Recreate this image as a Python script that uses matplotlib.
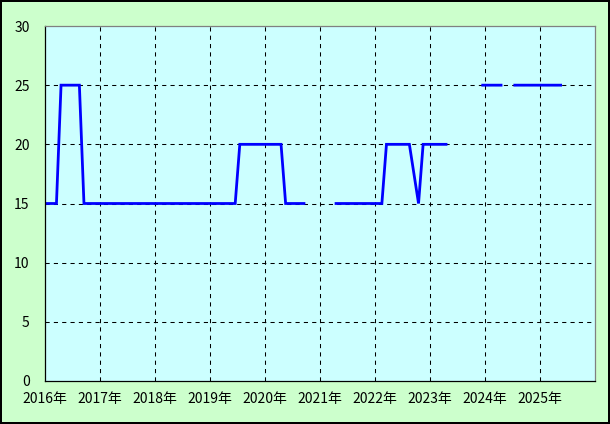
import numpy as np
import matplotlib
matplotlib.use("Agg")
import matplotlib.pyplot as plt

plt.rcParams['font.family'] = ['Noto Sans CJK JP', 'DejaVu Sans']

nan = np.nan

# monthly values, Jan 2016 .. Dec 2025 (gaps = no data)
v2016 = [15, 15, 15, 25, 25, 25, 25, 25, 15, 15, 15, 15]
v2017 = [15, 15, 15, 15, 15, 15, 15, 15, 15, 15, 15, 15]
v2018 = [15, 15, 15, 15, 15, 15, 15, 15, 15, 15, 15, 15]
v2019 = [15, 15, 15, 15, 15, 15, 20, 20, 20, 20, 20, 20]
v2020 = [20, 20, 20, 20, 15, 15, 15, 15, 15, nan, nan, nan]
v2021 = [nan, nan, nan, 15, 15, 15, 15, 15, 15, 15, 15, 15]
v2022 = [15, 15, 20, 20, 20, 20, 20, 20, 17.5, 15, 20, 20]
v2023 = [20, 20, 20, 20, nan, nan, nan, nan, nan, nan, nan, 25]
v2024 = [25, 25, 25, 25, nan, nan, 25, 25, 25, 25, 25, 25]
v2025 = [25, 25, 25, 25, 25, nan, nan, nan, nan, nan, nan, nan]

years = [2016, 2017, 2018, 2019, 2020, 2021, 2022, 2023, 2024, 2025]
year_labels = [f"{y}年" for y in years]

values = np.array(v2016 + v2017 + v2018 + v2019 + v2020 +
                  v2021 + v2022 + v2023 + v2024 + v2025, dtype=float)
x = 2016 + (np.arange(len(values)) + 0.5) / 12

fig = plt.figure(figsize=(6.10, 4.24), dpi=100)
fig.patch.set_facecolor("#CCFFCC")
fig.patch.set_edgecolor("black")
fig.patch.set_linewidth(1.5)

ax = fig.add_axes([45 / 610, 43 / 424, 550 / 610, 355 / 424])
ax.set_facecolor("#CCFFFF")

ax.plot(x, values, color="#0000FF", linewidth=2.0, solid_joinstyle="miter")

ax.set_xlim(2016, 2026)
ax.set_ylim(0, 30)
ax.set_xticks(years)
ax.set_xticklabels(year_labels)
ax.set_yticks([0, 5, 10, 15, 20, 25, 30])
ax.tick_params(length=0, labelsize=10, colors="black")
ax.tick_params(axis="y", pad=11)
ax.tick_params(axis="x", pad=8)

for yv in [5, 10, 15, 20, 25]:
    ax.axhline(yv, color="black", linewidth=0.75, linestyle=(0, (4, 4)), zorder=1)
for xv in years[1:]:
    ax.axvline(xv, color="black", linewidth=0.75, linestyle=(0, (4, 4)), zorder=1)

ax.spines["left"].set_color("black")
ax.spines["bottom"].set_color("black")
ax.spines["top"].set_color("#808080")
ax.spines["right"].set_color("#808080")
for s in ax.spines.values():
    s.set_linewidth(0.9)

fig.savefig("out.png", dpi=100, facecolor=fig.get_facecolor(), edgecolor="black")
